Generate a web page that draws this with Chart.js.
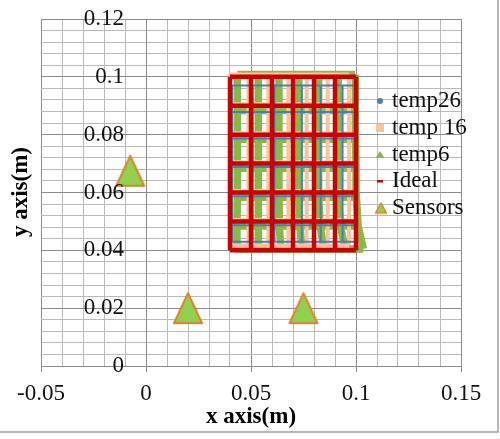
<!DOCTYPE html>
<html>
<head>
<meta charset="utf-8">
<script src="https://cdn.jsdelivr.net/npm/chart.js@4.4.1/dist/chart.umd.min.js"></script>
<style>
  body { margin: 0; background: #fff; }
</style>
</head>
<body>
<canvas id="chart" width="500" height="439"></canvas>
<script>
const seriesNames = ['temp26', 'temp 16', 'temp6', 'Ideal', 'Sensors'];

// ideal mesh nodes
const idealX = [0.04, 0.05, 0.06, 0.07, 0.08, 0.09, 0.1];
const idealY = [0.04, 0.05, 0.06, 0.07, 0.08, 0.09, 0.1];

// deformed meshes
const temp26X = [0.0410, 0.0508, 0.0612, 0.0742, 0.0832, 0.0936, 0.0995];
const temp26Y = [0.0430, 0.0487, 0.0587, 0.0688, 0.0787, 0.0878, 0.0970];

const temp16X = [0.0400, 0.0488, 0.0583, 0.0678, 0.0765, 0.0865, 0.0967];
const temp16Y = [0.0417, 0.0505, 0.0605, 0.0705, 0.0805, 0.0905, 0.1008];

// temp6: one row of x per y level, bottom to top
const temp6X = [
  [0.0430, 0.0538, 0.0642, 0.0744, 0.0846, 0.0948, 0.1035],
  [0.0433, 0.0535, 0.0635, 0.0732, 0.0830, 0.0926, 0.1010],
  [0.0435, 0.0535, 0.0633, 0.0728, 0.0822, 0.0916, 0.1002],
  [0.0435, 0.0535, 0.0633, 0.0728, 0.0822, 0.0916, 0.1000],
  [0.0435, 0.0535, 0.0633, 0.0728, 0.0822, 0.0916, 0.0998],
  [0.0435, 0.0535, 0.0633, 0.0728, 0.0822, 0.0916, 0.0998],
  [0.0435, 0.0535, 0.0633, 0.0728, 0.0822, 0.0916, 0.0996]
];
const temp6Y = [0.0405, 0.0484, 0.0584, 0.0684, 0.0784, 0.0884, 0.1008];

const sensorX = [-0.0075, 0.02, 0.075];
const sensorY = [0.0675, 0.02, 0.02];

const xTicks = [-0.05, 0, 0.05, 0.1, 0.15];
const yTicks = [0, 0.02, 0.04, 0.06, 0.08, 0.1, 0.12];

const colors = ['#4a7ebb', '#f8c49a', '#86b94a', '#cc0000', '#92d050'];
const sensorEdge = '#e0822a';
const serif = 'Liberation Serif';

function meshLines(xs, ys) {
  const rowX = j => Array.isArray(xs[0]) ? xs[j] : xs;
  const pts = [];
  ys.forEach((y, j) => {
    rowX(j).forEach(x => pts.push({x: x, y: y}));
    pts.push({x: null, y: null});
  });
  rowX(0).forEach((_, i) => {
    ys.forEach((y, j) => pts.push({x: rowX(j)[i], y: y}));
    pts.push({x: null, y: null});
  });
  return pts;
}

function triangleImg(w, h, fill, stroke, lw) {
  const c = document.createElement('canvas');
  c.width = w + lw * 2;
  c.height = h + lw * 2;
  const g = c.getContext('2d');
  g.beginPath();
  g.moveTo(c.width / 2, lw);
  g.lineTo(c.width - lw, c.height - lw);
  g.lineTo(lw, c.height - lw);
  g.closePath();
  g.fillStyle = fill;
  g.fill();
  g.lineWidth = lw;
  g.lineJoin = 'round';
  g.strokeStyle = stroke;
  g.stroke();
  return c;
}

const sensorMarker = triangleImg(28, 30, colors[4], sensorEdge, 2);
const sensorLegend = triangleImg(11, 10, colors[4], sensorEdge, 1.5);

function isMajor(v, list) {
  return list.some(t => Math.abs(t - v) < 1e-9);
}

function lineSet(label, pts, color, width, order) {
  return {
    label: label,
    data: pts,
    showLine: true,
    spanGaps: false,
    borderColor: color,
    backgroundColor: color,
    borderWidth: width,
    pointRadius: 0,
    order: order
  };
}

const extras = {
  id: 'extras',
  afterDraw(chart) {
    const ctx = chart.ctx;
    const xs = chart.scales.x, ys = chart.scales.y;
    ctx.save();
    // chart frame
    ctx.strokeStyle = '#a0a0a0';
    ctx.lineWidth = 1.5;
    ctx.beginPath();
    ctx.moveTo(0, 432);
    ctx.lineTo(498, 432);
    ctx.lineTo(498, 0);
    ctx.stroke();

    // y tick labels next to the axis that crosses at x = 0
    ctx.fillStyle = '#111';
    ctx.font = '23px "' + serif + '"';
    ctx.textAlign = 'right';
    ctx.textBaseline = 'middle';
    const axisX = xs.getPixelForValue(0);
    yTicks.forEach(v => {
      ctx.fillText(String(v), axisX - 22, ys.getPixelForValue(v));
    });

    // y title
    ctx.fillStyle = '#000';
    ctx.font = 'bold 23px "' + serif + '"';
    ctx.textAlign = 'center';
    ctx.translate(21, 192);
    ctx.rotate(-Math.PI / 2);
    ctx.fillText('y axis(m)', 0, 0);
    ctx.restore();

    // legend
    ctx.save();
    const mx = 380, tx = 392;
    const ly = [101, 128, 155, 181, 208];
    ctx.font = '23px "' + serif + '"';
    ctx.textAlign = 'left';
    ctx.textBaseline = 'middle';
    seriesNames.forEach((name, i) => {
      const y = ly[i];
      ctx.fillStyle = colors[i];
      if (i === 0) {
        ctx.beginPath();
        ctx.arc(mx, y, 3, 0, Math.PI * 2);
        ctx.fill();
      } else if (i === 1) {
        ctx.fillRect(mx - 4, y - 4, 8, 8);
      } else if (i === 2) {
        ctx.beginPath();
        ctx.moveTo(mx, y - 4);
        ctx.lineTo(mx + 4.5, y + 3);
        ctx.lineTo(mx - 4.5, y + 3);
        ctx.closePath();
        ctx.fill();
      } else if (i === 3) {
        ctx.fillRect(mx - 3, y - 1, 6, 2.5);
      } else {
        ctx.drawImage(sensorLegend, mx - sensorLegend.width / 2 + 1, y - sensorLegend.height / 2);
      }
      ctx.fillStyle = '#111';
      ctx.fillText(name, tx, y);
    });
    ctx.restore();
  }
};

const gridColor = (ctx, list) => isMajor(ctx.tick.value, list) ? '#8c8c8c' : '#bababa';

new Chart(document.getElementById('chart'), {
  type: 'scatter',
  data: {
    datasets: [
      lineSet(seriesNames[0], meshLines(temp26X, temp26Y), colors[0], 2, 2),
      lineSet(seriesNames[1], meshLines(temp16X, temp16Y), colors[1], 4, 3),
      lineSet(seriesNames[2], meshLines(temp6X, temp6Y), colors[2], 7.5, 4),
      lineSet(seriesNames[3], meshLines(idealX, idealY), colors[3], 4.5, 1),
      {
        label: seriesNames[4],
        data: sensorX.map((x, i) => ({x: x, y: sensorY[i]})),
        showLine: false,
        pointStyle: sensorMarker,
        pointRadius: 10,
        order: 0
      }
    ]
  },
  options: {
    responsive: false,
    animation: false,
    layout: { padding: { left: 41, right: 39, top: 19, bottom: 0 } },
    plugins: { legend: { display: false }, tooltip: { enabled: false } },
    scales: {
      x: {
        type: 'linear',
        position: 'bottom',
        min: -0.05,
        max: 0.15,
        afterFit: s => { s.height = 73; },
        ticks: {
          stepSize: 0.01,
          autoSkip: false,
          maxRotation: 0,
          padding: 8,
          color: '#111',
          font: { family: serif, size: 23 },
          callback: v => isMajor(v, xTicks) ? String(Math.round(v * 100) / 100) : ''
        },
        grid: {
          color: ctx => gridColor(ctx, xTicks),
          tickColor: ctx => isMajor(ctx.tick.value, xTicks) ? '#8c8c8c' : 'rgba(0,0,0,0)',
          tickLength: 6,
          lineWidth: 1
        },
        border: { color: '#8c8c8c' },
        title: {
          display: true,
          text: 'x axis(m)',
          color: '#000',
          font: { family: serif, size: 23, weight: 'bold' },
          padding: { top: 0, bottom: 8 }
        }
      },
      y: {
        type: 'linear',
        position: { x: 0 },
        min: 0,
        max: 0.12,
        ticks: {
          stepSize: 0.004,
          autoSkip: false,
          callback: () => ''
        },
        grid: {
          color: ctx => gridColor(ctx, yTicks),
          tickColor: ctx => isMajor(ctx.tick.value, yTicks) ? '#8c8c8c' : 'rgba(0,0,0,0)',
          tickLength: 9,
          lineWidth: 1
        },
        border: { color: '#8c8c8c' }
      }
    }
  },
  plugins: [extras]
});
</script>
</body>
</html>
